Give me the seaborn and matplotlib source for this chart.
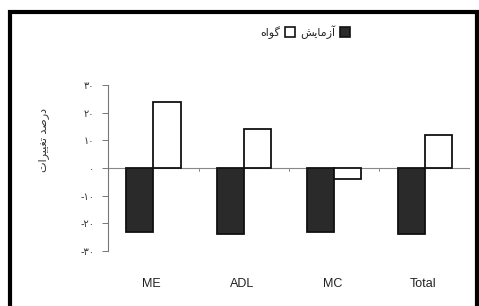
import numpy as np
import pandas as pd
import seaborn as sns
import matplotlib.pyplot as plt
from matplotlib.patches import Patch, Rectangle

##----------- Data --------------##
categories = ['ME', 'ADL', 'MC', 'Total']
# group names in Persian, written in shaped visual order (matplotlib has no bidi shaping)
grp_exp = '\uFEB6\uFBFE\uFE8E\uFEE3\uFEAF\uFE81'      # آزمایش
grp_ctl = '\uFEE9\uFE8D\uFEEE\uFB94'                  # گواه
exp_values = [-23, -24, -23, -24]
ctl_values = [24, 14, -4, 12]
y_ticks = [-30, -20, -10, 0, 10, 20, 30]
y_ticklabels = ['-\u06f3\u06f0', '-\u06f2\u06f0', '-\u06f1\u06f0', '\u06f0',
                '\u06f1\u06f0', '\u06f2\u06f0', '\u06f3\u06f0']
y_label = '\uFE95\uFE8D\uFEAE\uFBFF\uFBFF\uFED0\uFE97 \uFEAA\uFEBB\uFEAD\uFEA9'  # درصد تغییرات

df = pd.DataFrame({
    'cat': categories * 2,
    'group': [grp_exp] * len(categories) + [grp_ctl] * len(categories),
    'value': exp_values + ctl_values,
})

##----------- Plot --------------##
sns.set_style('white')
plt.rcParams['font.family'] = ['DejaVu Sans']

fig = plt.figure(figsize=(4.79, 3.06), dpi=100)
ax = fig.add_axes([0.226, 0.180, 0.755, 0.542])

sns.barplot(data=df, x='cat', y='value', hue='group', order=categories,
            hue_order=[grp_exp, grp_ctl], palette=['#2a2a2a', 'white'],
            width=0.6, gap=0, edgecolor='#111111', linewidth=1.3,
            legend=False, ax=ax)

ax.set_xlim(-0.5, len(categories) - 0.5)
ax.set_ylim(-30, 30)
ax.set_yticks(y_ticks)
ax.set_yticklabels(y_ticklabels, fontsize=7, color='#333333')
ax.tick_params(axis='y', direction='out', length=4, width=0.7, color='#777777', pad=6, left=True)

# zero line with category separators
ax.axhline(0, color='#888888', lw=0.8, zorder=0)
for b in np.arange(0.5, len(categories) + 0.5, 1.0):
    ax.plot([b, b], [0, -1.2], color='#888888', lw=0.7, zorder=0)

for s in ['top', 'right', 'bottom']:
    ax.spines[s].set_visible(False)
ax.spines['left'].set_color('#777777')
ax.spines['left'].set_linewidth(0.8)

ax.set_xticks([])
ax.set_xlabel('')
for i, c in enumerate(categories):
    ax.text(i - 0.02, -0.2, c, transform=ax.get_xaxis_transform(),
            ha='center', va='center', fontsize=9, color='#222222',
            family=['Liberation Sans', 'DejaVu Sans'])

ax.set_ylabel(y_label, fontsize=8, color='#333333')
ax.yaxis.set_label_coords(-0.165, 0.67)

handles = [Patch(facecolor='white', edgecolor='#111111', lw=1.2, label=grp_ctl),
           Patch(facecolor='#2a2a2a', edgecolor='#111111', lw=1.2, label=grp_exp)]
fig.legend(handles=handles, loc='center', bbox_to_anchor=(305 / 479, 1 - 32 / 306),
           ncol=2, frameon=False, markerfirst=False, fontsize=8,
           handlelength=0.9, handleheight=0.9, handletextpad=0.4, columnspacing=0.5)

# scan frame
fig.add_artist(Rectangle((10 / 479, -0.1), 467 / 479, 1.062, transform=fig.transFigure,
                         fill=False, lw=3, ec='black'))

plt.savefig('out.png', dpi=100)
plt.close()
